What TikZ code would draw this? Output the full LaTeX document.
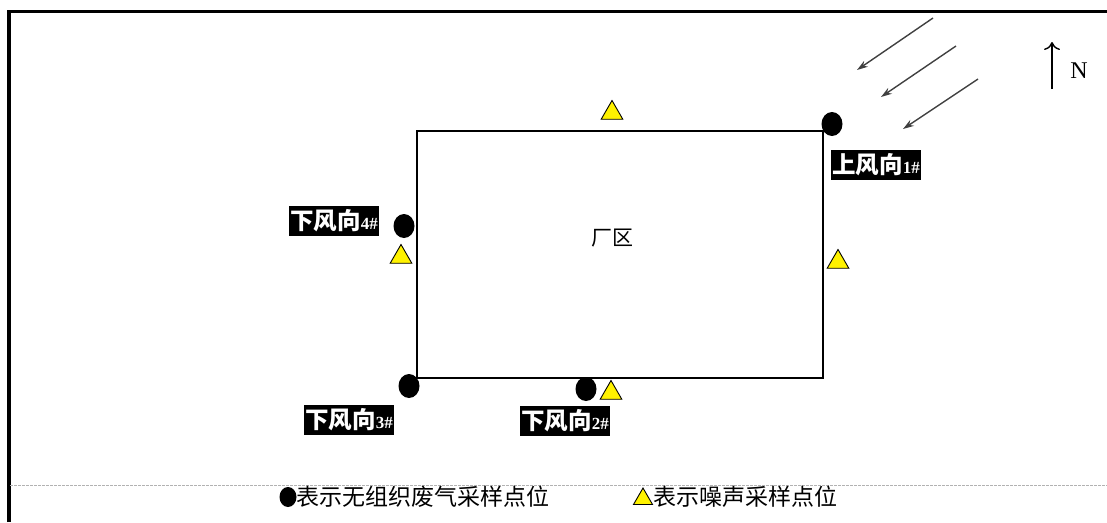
\documentclass[tikz,border=0pt]{standalone}
\usepackage{fontspec}
\setmainfont{Liberation Serif}
\newfontfamily\cjk{Noto Sans CJK SC}
\usetikzlibrary{arrows.meta,shapes.geometric}
\tikzset{
  gaspt/.style={ellipse,fill=black,minimum width=21pt,minimum height=24pt,inner sep=0pt},
  noisept/.style={regular polygon,regular polygon sides=3,fill=yellow,draw=black,line width=0.9pt,minimum size=25pt,inner sep=0pt},
  lbl/.style={fill=black,text=white,inner xsep=1pt,inner ysep=0pt,minimum height=30pt,font=\bfseries},
  wind/.style={draw=black!75,line width=1.4pt,-{Stealth[length=11pt,width=7pt]}},
}
\newcommand{\lbltext}[2]{{\cjk\fontsize{23.5}{25}\selectfont\bfseries #1}{\fontsize{17}{18}\selectfont\bfseries #2}}
\begin{document}
\begin{tikzpicture}[x=1pt,y=-1pt]
\useasboundingbox (0,0) rectangle (1107,522);
% frame
\draw[line width=3.5pt] (9,522) -- (9,11.5) -- (1107,11.5);
\draw[black!30,line width=1pt,dash pattern=on 3pt off 1pt] (10,485.5) -- (1107,485.5);
% plant
\node[draw=black,line width=1.2pt,minimum width=406pt,minimum height=247pt,inner sep=0pt] (plant) at (620,254.5) {};
\node[font=\cjk\fontsize{21}{22}\selectfont] (plantlbl) at (612,238) {厂区};
% gas sampling points
\node[gaspt] (g1) at (832,124) {};
\node[gaspt] (g4) at (404,226) {};
\node[gaspt] (g3) at (409,386) {};
\node[gaspt] (g2) at (586,389) {};
% noise points
\node[noisept] (n1) at (612,113) {};
\node[noisept] (n2) at (401,257) {};
\node[noisept] (n3) at (838,262) {};
\node[noisept] (n4) at (611,393) {};
% labels
\node[lbl] (l1) at (876,165) {\lbltext{上风向}{1\#}};
\node[lbl] (l4) at (334,221) {\lbltext{下风向}{4\#}};
\node[lbl] (l3) at (349,420) {\lbltext{下风向}{3\#}};
\node[lbl] (l2) at (565,421) {\lbltext{下风向}{2\#}};
% wind arrows
\coordinate (w1s) at (933,18); \coordinate (w1e) at (857,70);
\coordinate (w2s) at (956,46); \coordinate (w2e) at (881,97);
\coordinate (w3s) at (978,79); \coordinate (w3e) at (903,129);
\draw[wind] (w1s) -- (w1e);
\draw[wind] (w2s) -- (w2e);
\draw[wind] (w3s) -- (w3e);
% north
\coordinate (ns) at (1052,89); \coordinate (ne) at (1052,42);
\draw[line width=2.8pt,-{To[length=8pt,width=16pt,line width=1.4pt]}] (ns) -- (ne);
\node[font=\fontsize{24}{26}\selectfont] (N) at (1079,71) {N};
% legend
\node[ellipse,fill=black,minimum width=17pt,minimum height=20pt,inner sep=0pt] (legdot) at (288,497) {};
\node[font=\cjk\fontsize{23}{24}\selectfont,inner sep=0pt,anchor=west] (leg1) at (296,497) {表示无组织废气采样点位};
\node[noisept,minimum size=22pt] (legtri) at (643,499) {};
\node[font=\cjk\fontsize{23}{24}\selectfont,inner sep=0pt,anchor=west] (leg2) at (653,497) {表示噪声采样点位};
\end{tikzpicture}
\end{document}
